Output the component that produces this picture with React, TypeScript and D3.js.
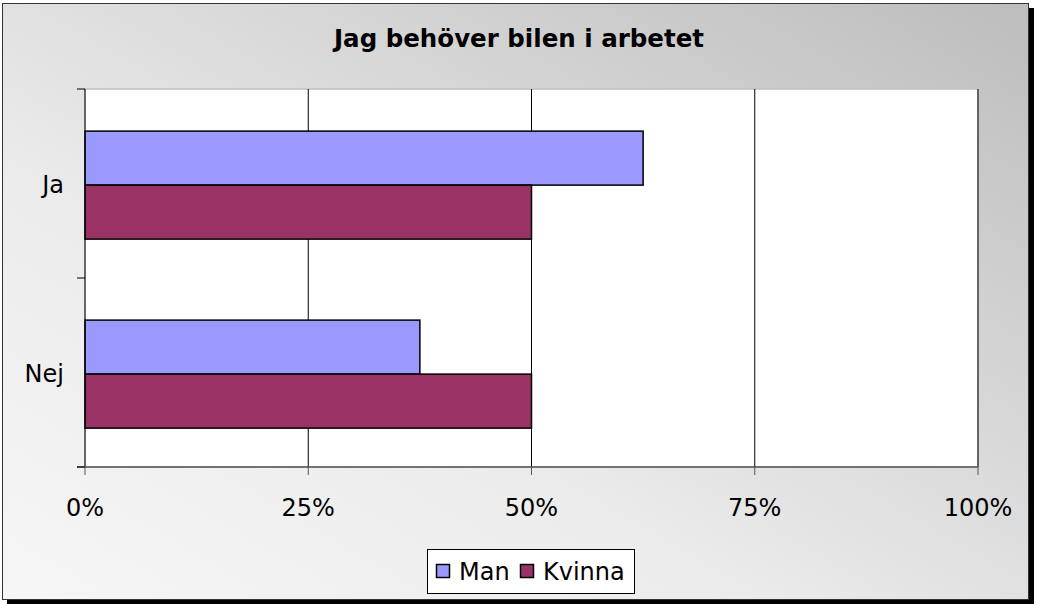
import React from "react";
import { scaleLinear, scaleBand } from "d3";

const categories = ["Ja", "Nej"];
const seriesNames = ["Man", "Kvinna"];
const manValues = [0.625, 0.375];
const kvinnaValues = [0.5, 0.5];
const tickValues = [0, 0.25, 0.5, 0.75, 1];
const tickLabels = ["0%", "25%", "50%", "75%", "100%"];
const colors = ["#9999ff", "#993366"];

const W = 1037;
const H = 605;
const plot = { left: 85, top: 89, right: 978, bottom: 467 };
const font = "'DejaVu Sans', Verdana, sans-serif";

export default function App() {
  const x = scaleLinear().domain([0, 1]).range([plot.left, plot.right]);
  const y = scaleBand().domain(categories).range([plot.top, plot.bottom]);
  // gap width 150% like Excel
  const barH = y.bandwidth() / 3.5;
  const series = [manValues, kvinnaValues];

  return (
    <div style={{ position: "fixed", left: 0, top: 0 }}>
      <svg width={W} height={H} style={{ display: "block" }}>
        <defs>
          <linearGradient id="bg" x1="0" y1="1" x2="1" y2="0">
            <stop offset="0%" stopColor="#f6f6f6" />
            <stop offset="35%" stopColor="#ececec" />
            <stop offset="100%" stopColor="#bdbdbd" />
          </linearGradient>
        </defs>
        {/* shadow */}
        <rect x={7} y={8} width={1027} height={596} fill="#000" />
        <rect x={2.5} y={3.5} width={1026} height={596} fill="url(#bg)" stroke="#333" strokeWidth={1} />

        <text x={519} y={47} textAnchor="middle" fontFamily={font} fontWeight="bold" fontSize={24.5}>
          Jag behöver bilen i arbetet
        </text>

        {/* plot area */}
        <rect x={plot.left} y={plot.top} width={plot.right - plot.left} height={plot.bottom - plot.top} fill="#fff" stroke="#c0c0c0" strokeWidth={1.5} />

        {tickValues.slice(1).map((t, i) => (
          <line key={i} x1={x(t)} x2={x(t)} y1={plot.top} y2={plot.bottom} stroke="#000" strokeWidth={1} />
        ))}

        {categories.map((c, ci) =>
          series.map((vals, si) => (
            <rect
              key={c + si}
              x={x(0)}
              y={(y(c) as number) + barH * 0.78 + si * barH}
              width={x(vals[ci]) - x(0)}
              height={barH}
              fill={colors[si]}
              stroke="#000"
              strokeWidth={1.5}
            />
          ))
        )}

        {/* axes */}
        <line x1={plot.left} x2={plot.left} y1={plot.top} y2={plot.bottom} stroke="#000" strokeWidth={1} />
        <line x1={plot.left - 8} x2={plot.right} y1={plot.bottom} y2={plot.bottom} stroke="#555" strokeWidth={1.5} />
        {[...categories.map((c) => y(c) as number), plot.bottom].map((v, i) => (
          <line key={i} x1={plot.left - 8} x2={plot.left} y1={v} y2={v} stroke="#000" />
        ))}
        {tickValues.map((t, i) => (
          <line key={i} x1={x(t)} x2={x(t)} y1={plot.bottom} y2={plot.bottom + 8} stroke="#555" />
        ))}

        {categories.map((c) => (
          <text key={c} x={64} y={(y(c) as number) + y.bandwidth() / 2 + 9} textAnchor="end" fontFamily={font} fontSize={24}>
            {c}
          </text>
        ))}
        {tickValues.map((t, i) => (
          <text key={i} x={x(t)} y={516} textAnchor="middle" fontFamily={font} fontSize={24}>
            {tickLabels[i]}
          </text>
        ))}

        {/* legend */}
        <rect x={427.5} y={549.5} width={207} height={44} fill="#fff" stroke="#000" />
        {seriesNames.map((s, i) => {
          const lx = i === 0 ? 436 : 520;
          return (
            <g key={s}>
              <rect x={lx + 0.5} y={564.5} width={13} height={13} fill={colors[i]} stroke="#000" strokeWidth={1.5} />
              <text x={lx + 23} y={580} fontFamily={font} fontSize={24}>
                {s}
              </text>
            </g>
          );
        })}
      </svg>
    </div>
  );
}
